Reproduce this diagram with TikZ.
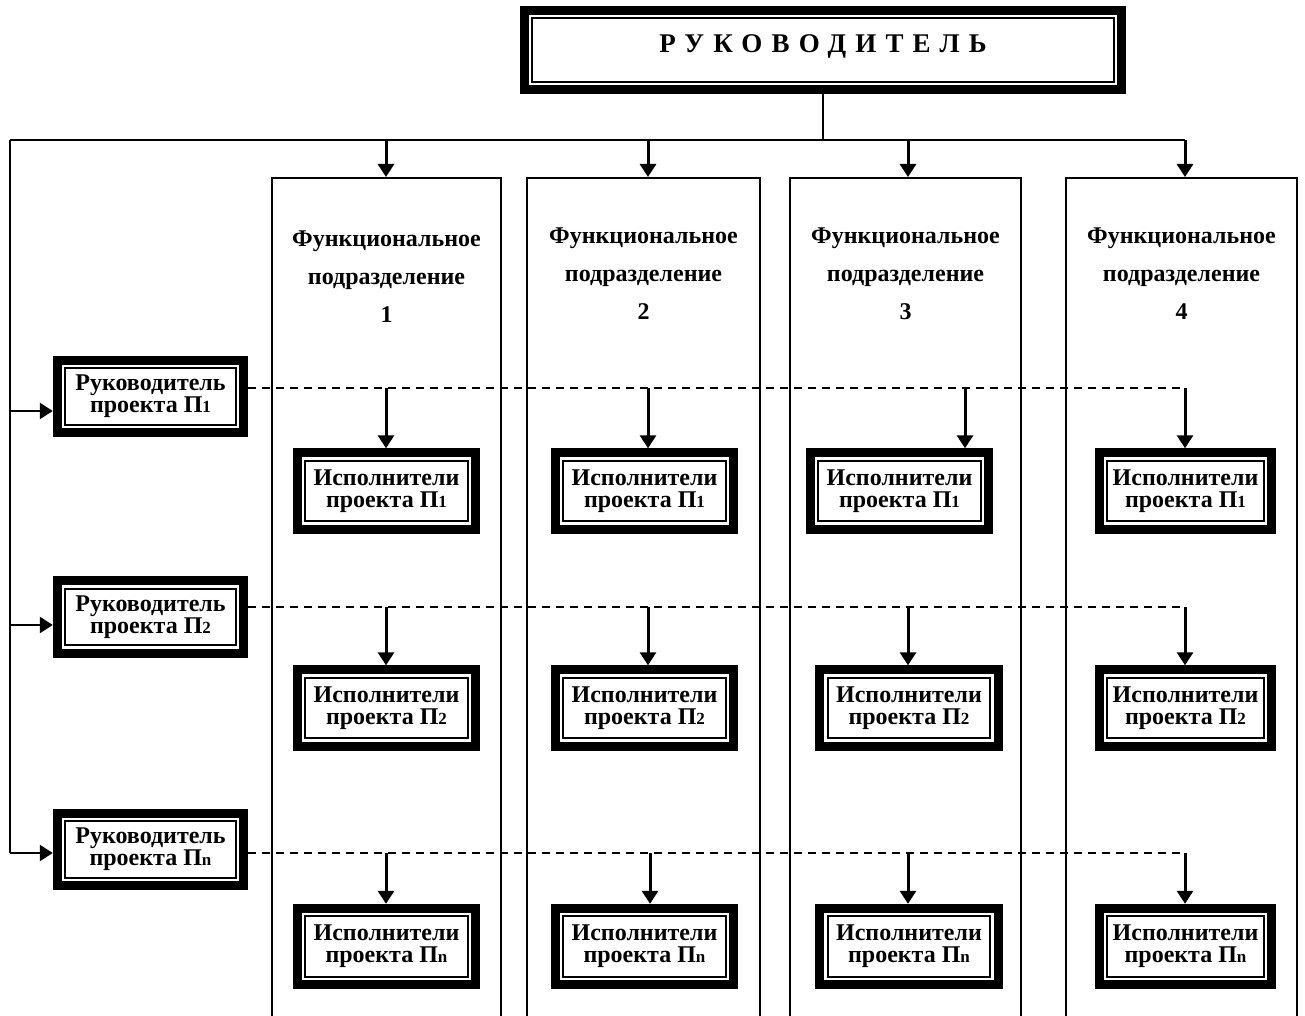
\documentclass[tikz,border=0pt]{standalone}
\usepackage{fontspec}
\setmainfont{Liberation Serif}
\usetikzlibrary{arrows.meta}

% small index after the letter П
\newcommand\pidx[1]{{\fontsize{17}{17}\selectfont #1}}
% heavy outer frame with a thin inner rule
\newcommand\dblframe[1]{%
  \draw[line width=9pt] ([shift={(4.5pt,-4.5pt)}]#1.north west) rectangle ([shift={(-4.5pt,4.5pt)}]#1.south east);
  \draw[line width=2pt] ([shift={(12.5pt,-12.5pt)}]#1.north west) rectangle ([shift={(-12.5pt,12.5pt)}]#1.south east);}

\begin{document}
\begin{tikzpicture}[x=1pt,y=-1pt,
  boxtext/.style={inner sep=0pt, align=center, font=\bfseries\fontsize{24}{22}\selectfont},
  mgr/.style={boxtext, minimum width=195pt, minimum height=81pt},
  team/.style={boxtext, minimum width=187pt, minimum height=85pt},
  colbox/.style={draw, line width=1.6pt, inner sep=0pt, minimum height=900pt, anchor=north},
  coltext/.style={inner sep=0pt, align=center, font=\bfseries\fontsize{24}{38}\selectfont},
  feed/.style={line width=1.6pt},
  arr/.style={line width=3pt, -{Triangle[length=13pt,width=16pt]}},
  harr/.style={line width=2.5pt, -{Triangle[length=13pt,width=16pt]}},
  link/.style={line width=1.5pt, dash pattern=on 8pt off 6pt}
]
\clip (0,0) rectangle (1305,1016);
\fill[white] (0,0) rectangle (1305,1016);

% head of the organisation
\node[inner sep=0pt, minimum width=606pt, minimum height=88pt,
      font=\bfseries\fontsize{27}{27}\selectfont\addfontfeature{LetterSpace=34}]
      (head) at (823,50) {\raisebox{12pt}{РУКОВОДИТЕЛЬ}};
\dblframe{head}

% functional departments (columns)
\node[colbox, minimum width=229pt] (f1) at (386.5,177) {};
\node[colbox, minimum width=233pt] (f2) at (643.5,177) {};
\node[colbox, minimum width=231pt] (f3) at (905.5,177) {};
\node[colbox, minimum width=231pt] (f4) at (1181.5,177) {};

\node[coltext] (f1t) at (386.5,277) {Функциональное\\подразделение\\1};
\node[coltext] (f2t) at (643.5,274) {Функциональное\\подразделение\\2};
\node[coltext] (f3t) at (905.5,274) {Функциональное\\подразделение\\3};
\node[coltext] (f4t) at (1181.5,274) {Функциональное\\подразделение\\4};

% project managers
\node[mgr] (m1) at (150.5,396.5) {Руководитель\\проекта П\pidx{1}};
\node[mgr] (m2) at (150.5,617) {Руководитель\\проекта П\pidx{2}};
\node[mgr] (m3) at (150.5,849.5) {Руководитель\\проекта П\pidx{n}};
\dblframe{m1}\dblframe{m2}\dblframe{m3}

% project teams inside the departments
\node[team] (e11) at (386.5,491) {Исполнители\\проекта П\pidx{1}};
\node[team] (e12) at (644.5,491) {Исполнители\\проекта П\pidx{1}};
\node[team] (e13) at (899.5,491) {Исполнители\\проекта П\pidx{1}};
\node[team, minimum width=181pt] (e14) at (1185.5,491) {Исполнители\\проекта П\pidx{1}};
\node[team] (e21) at (386.5,708) {Исполнители\\проекта П\pidx{2}};
\node[team] (e22) at (644.5,708) {Исполнители\\проекта П\pidx{2}};
\node[team] (e23) at (909,708) {Исполнители\\проекта П\pidx{2}};
\node[team, minimum width=181pt] (e24) at (1185.5,708) {Исполнители\\проекта П\pidx{2}};
\node[team] (e31) at (386.5,946.5) {Исполнители\\проекта П\pidx{n}};
\node[team] (e32) at (644.5,946.5) {Исполнители\\проекта П\pidx{n}};
\node[team] (e33) at (909,946.5) {Исполнители\\проекта П\pidx{n}};
\node[team, minimum width=181pt] (e34) at (1185.5,946.5) {Исполнители\\проекта П\pidx{n}};
\foreach \r in {1,2,3}{\foreach \c in {1,2,3,4}{\dblframe{e\r\c}}}

% distribution bus from the head
\coordinate (hub) at (823,140);
\coordinate (busL) at (10,140);
\coordinate (busR) at (1185,140);
\draw[feed] (head.south) -- (hub);
\draw[feed] (busL) -- (busR);
\coordinate (a1) at (386,140);
\coordinate (a2) at (648,140);
\coordinate (a3) at (908,140);
\draw[arr] (a1) -- (a1 |- f1.north);
\draw[arr] (a2) -- (a2 |- f2.north);
\draw[arr] (a3) -- (a3 |- f3.north);
\draw[arr] (busR) -- (busR |- f4.north);

% feed to the project managers
\coordinate (l1) at (10,411);
\coordinate (l2) at (10,625);
\coordinate (l3) at (10,853);
\draw[feed] (busL) -- (l3);
\draw[harr] (l1) -- (l1 -| m1.west);
\draw[harr] (l2) -- (l2 -| m2.west);
\draw[harr] (l3) -- (l3 -| m3.west);

% project links to the teams
\coordinate (d1) at (1185,388);
\coordinate (d2) at (1185,607);
\coordinate (d3) at (1185,853);
\draw[link] (m1.east |- d1) -- (d1);
\draw[link] (m2.east |- d2) -- (d2);
\draw[link] (m3.east |- d3) -- (d3);

\coordinate (t11) at (386,388);
\coordinate (t12) at (648,388);
\coordinate (t13) at (965,388);
\draw[arr] (t11) -- (t11 |- e11.north);
\draw[arr] (t12) -- (t12 |- e12.north);
\draw[arr] (t13) -- (t13 |- e13.north);
\draw[arr] (d1) -- (d1 |- e14.north);

\coordinate (t21) at (386,607);
\coordinate (t22) at (648,607);
\coordinate (t23) at (908,607);
\draw[arr] (t21) -- (t21 |- e21.north);
\draw[arr] (t22) -- (t22 |- e22.north);
\draw[arr] (t23) -- (t23 |- e23.north);
\draw[arr] (d2) -- (d2 |- e24.north);

\coordinate (t31) at (386,853);
\coordinate (t32) at (650,853);
\coordinate (t33) at (908,853);
\draw[arr] (t31) -- (t31 |- e31.north);
\draw[arr] (t32) -- (t32 |- e32.north);
\draw[arr] (t33) -- (t33 |- e33.north);
\draw[arr] (d3) -- (d3 |- e34.north);
\end{tikzpicture}
\end{document}
